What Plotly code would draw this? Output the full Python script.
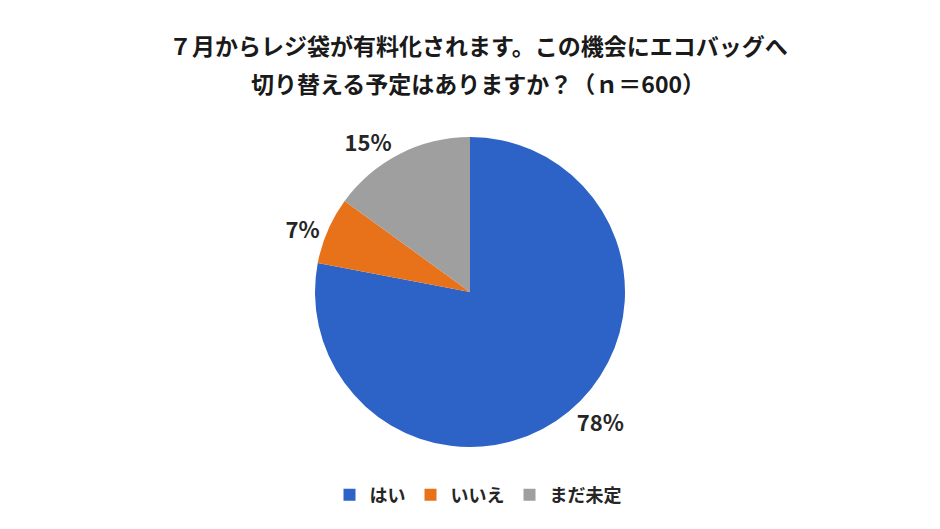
import plotly.graph_objects as go

# --- Data ---
labels = ["はい", "いいえ", "まだ未定"]
values = [78, 7, 15]
colors = ["#2D62C6", "#E8721A", "#9F9F9F"]

title_lines = [
    "７月からレジ袋が有料化されます。この機会にエコバッグへ",
    "切り替える予定はありますか？（ｎ＝600）",
]

FONT = "Noto Sans CJK JP, Noto Sans, sans-serif"

fig = go.Figure(
    go.Pie(
        labels=labels,
        values=values,
        sort=False,
        direction="clockwise",
        rotation=0,
        marker=dict(colors=colors, line=dict(width=0)),
        texttemplate="%{value}%",
        textposition="outside",
        textfont=dict(family=FONT, size=22, color="#262626", weight="bold"),
        hovertemplate="%{label}: %{value}%<extra></extra>",
        domain=dict(x=[307 / 940, 617 / 940], y=[90 / 529, 400 / 529]),
    )
)

# two title lines as annotations (Plotly's <br> spacing is too tight)
for i, line in enumerate(title_lines):
    fig.add_annotation(
        text=line, x=0.5, y=1 - (37 + 38 * i) / 529,
        xref="paper", yref="paper", showarrow=False,
        xanchor="center", yanchor="middle",
        font=dict(family=FONT, size=23, color="#1a1a1a", weight="bold"),
    )

fig.update_layout(
    width=940, height=529,
    margin=dict(l=0, r=0, t=0, b=0),
    paper_bgcolor="white",
    plot_bgcolor="white",
    showlegend=True,
    legend=dict(
        orientation="h", x=0.5, xanchor="center", y=1 - 487 / 529, yanchor="middle",
        font=dict(family=FONT, size=18, color="#262626", weight="bold"),
        itemwidth=30,
    ),
)

fig.write_html("out.html")
